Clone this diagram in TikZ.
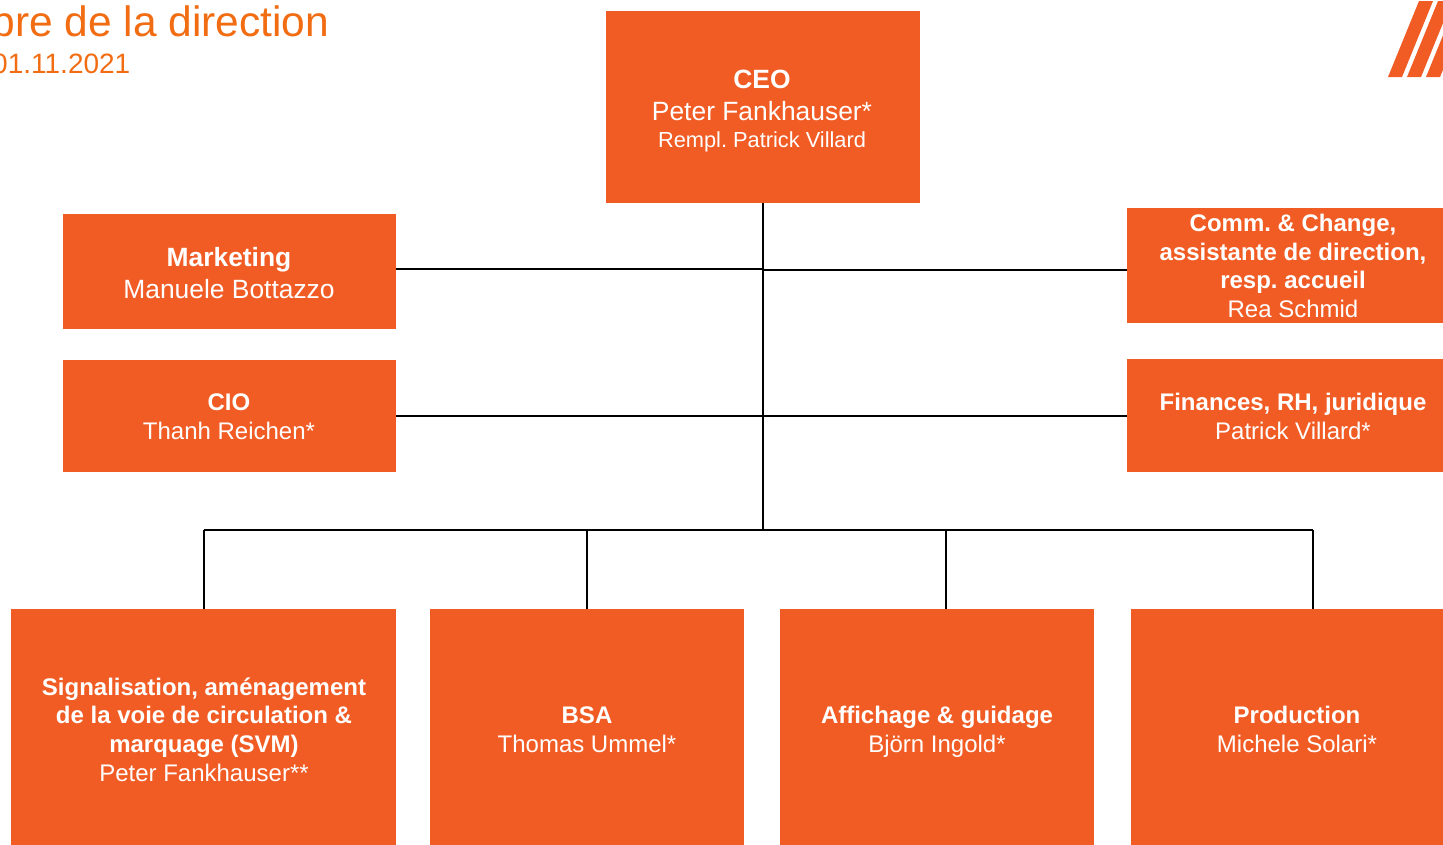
\documentclass[tikz,border=0pt]{standalone}
\usepackage{fontspec}
\setmainfont{Liberation Sans}
\AtBeginDocument{\frenchspacing}
\definecolor{boxorange}{HTML}{F15C25}
\definecolor{titleorange}{HTML}{F26C12}
\newcommand{\fs}[1]{\fontsize{#1}{#1}\selectfont}
\tikzset{
  orgbox/.style={fill=boxorange,draw=none,text=white,align=center,inner sep=0pt},
  boxtext/.style={text=white,align=center,inner sep=0pt,anchor=base},
  conn/.style={draw=black,line width=2pt},
  titletext/.style={text=titleorange,anchor=base east,inner sep=0pt},
  logostripe/.style={fill=boxorange,draw=none},
}
\begin{document}
\begin{tikzpicture}[x=1pt,y=-1pt]
\useasboundingbox (0,0) rectangle (1443,844);
\clip (0,0) rectangle (1443,844);
\fill[white] (0,0) rectangle (1443,844);
\node[orgbox,minimum width=314pt,minimum height=192pt] (ceo) at (763,107) {};
\node[orgbox,minimum width=333pt,minimum height=115pt] (mkt) at (229.5,271.5) {};
\node[orgbox,minimum width=333pt,minimum height=112pt] (cio) at (229.5,416) {};
\node[orgbox,minimum width=332pt,minimum height=115pt] (comm) at (1293,265.5) {};
\node[orgbox,minimum width=332pt,minimum height=113pt] (fin) at (1293,415.5) {};
\node[orgbox,minimum width=385pt,minimum height=240pt] (svm) at (203.5,729) {};
\node[orgbox,minimum width=314pt,minimum height=240pt] (bsa) at (587,729) {};
\node[orgbox,minimum width=314pt,minimum height=240pt] (aff) at (937,729) {};
\node[orgbox,minimum width=332pt,minimum height=240pt] (prod) at (1297,729) {};
\coordinate (jm) at (762.5,269);
\coordinate (jc) at (762.5,270);
\coordinate (ji) at (762.5,416);
\coordinate (jf) at (762.5,415.5);
\coordinate (bus) at (762.5,530);
\coordinate (dsvm) at (204,530);
\coordinate (dbsa) at (587,530);
\coordinate (daff) at (946,530);
\coordinate (dprod) at (1312.5,530);
\draw[conn] (ceo.south -| bus) -- (bus);
\draw[conn] (mkt.east |- jm) -- (jm);
\draw[conn] (jc) -- (comm.west |- jc);
\draw[conn] (cio.east |- ji) -- (ji);
\draw[conn] (jf) -- (fin.west |- jf);
\draw[conn] (dsvm) -- (dprod);
\draw[conn] (dsvm) -- (dsvm |- svm.north);
\draw[conn] (dbsa) -- (dbsa |- bsa.north);
\draw[conn] (daff) -- (daff |- aff.north);
\draw[conn] (dprod) -- (dprod |- prod.north);
% box texts
\node[boxtext] (ceot) at (762,88) {\fs{26.4}\textbf{CEO}};
\node[boxtext] (ceon) at (762,120) {\fs{26.4}Peter Fankhauser*};
\node[boxtext] (ceor) at (762,147) {\fs{21.8}Rempl. Patrick Villard};
\node[boxtext] (mktt) at (229,266) {\fs{26.4}\textbf{Marketing}};
\node[boxtext] (mktn) at (229,298) {\fs{26.4}Manuele Bottazzo};
\node[boxtext] (ciot) at (229,410.5) {\fs{24}\textbf{CIO}};
\node[boxtext] (cion) at (229,439.5) {\fs{24}Thanh Reichen*};
\node[boxtext] (commt1) at (1293,231) {\fs{24}\textbf{Comm. \& Change,}};
\node[boxtext] (commt2) at (1293,260) {\fs{24}\textbf{assistante de direction,}};
\node[boxtext] (commt3) at (1293,288) {\fs{24}\textbf{resp. accueil}};
\node[boxtext] (commn) at (1293,317) {\fs{24}Rea Schmid};
\node[boxtext] (fint) at (1293,410) {\fs{24}\textbf{Finances, RH, juridique}};
\node[boxtext] (finn) at (1293,439) {\fs{24}Patrick Villard*};
\node[boxtext] (svm1) at (204,695) {\fs{24}\textbf{Signalisation, aménagement}};
\node[boxtext] (svm2) at (204,723) {\fs{24}\textbf{de la voie de circulation \&}};
\node[boxtext] (svm3) at (204,752) {\fs{24}\textbf{marquage (SVM)}};
\node[boxtext] (svmn) at (204,781) {\fs{24}Peter Fankhauser**};
\node[boxtext] (bsat) at (587,723) {\fs{24}\textbf{BSA}};
\node[boxtext] (bsan) at (587,752) {\fs{24}Thomas Ummel*};
\node[boxtext] (afft) at (937,723) {\fs{24}\textbf{Affichage \& guidage}};
\node[boxtext] (affn) at (937,752) {\fs{24}Björn Ingold*};
\node[boxtext] (prodt) at (1297,723) {\fs{24}\textbf{Production}};
\node[boxtext] (prodn) at (1297,752) {\fs{24}Michele Solari*};
% title
\node[titletext] (title) at (329.5,36) {\fs{42.5}Membre de la direction};
\node[titletext] (date) at (130.5,73) {\fs{28}01.11.2021};
% logo
\fill[logostripe] (1388,77) -- (1402,77) -- (1433,1) -- (1419,1) -- cycle;
\fill[logostripe] (1407,77) -- (1421,77) -- (1452,1) -- (1438,1) -- cycle;
\fill[logostripe] (1426,77) -- (1440,77) -- (1471,1) -- (1457,1) -- cycle;
\end{tikzpicture}
\end{document}
